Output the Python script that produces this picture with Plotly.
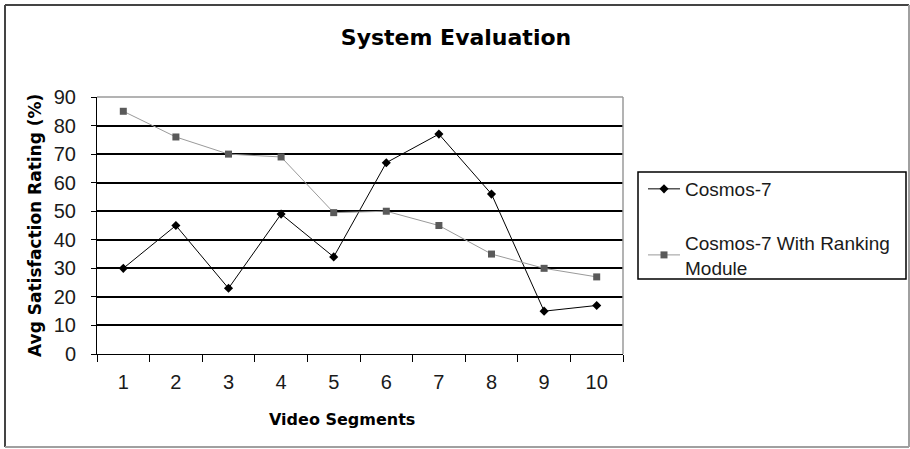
import plotly.graph_objects as go

segments = ["1", "2", "3", "4", "5", "6", "7", "8", "9", "10"]
cosmos7 = [30, 45, 23, 49, 34, 67, 77, 56, 15, 17]
cosmos7_ranking = [85, 76, 70, 69, 49.5, 50, 45, 35, 30, 27]
y_ticks = [0, 10, 20, 30, 40, 50, 60, 70, 80, 90]

L, R, T, B = 97, 623, 97, 354
W, H = 910, 449
pw, ph = R - L, B - T

def px(x):
    return (x - L) / pw

def py(y):
    return (B - y) / ph

fig = go.Figure()
fig.add_trace(go.Scatter(
    x=segments, y=cosmos7, mode="lines+markers", name="Cosmos-7",
    line=dict(color="black", width=1),
    marker=dict(symbol="diamond", size=7, color="black"),
    legendgroup="a",
))
fig.add_trace(go.Scatter(
    x=segments, y=cosmos7_ranking, mode="lines+markers",
    name="Cosmos-7 With Ranking<br>Module",
    line=dict(color="#9a9a9a", width=1),
    marker=dict(symbol="square", size=7, color="#5a5a5a"),
    legendgroup="b",
))

font_tick = dict(family="Liberation Sans, Arial", size=20, color="#1a1a1a")

fig.update_layout(
    width=W, height=H,
    margin=dict(l=L, r=W - R, t=T, b=H - B),
    paper_bgcolor="white", plot_bgcolor="white",
    title=dict(text="<b>System Evaluation</b>", x=456 / W, xref="container",
               xanchor="center", y=1 - 37 / H, yref="container", yanchor="middle",
               font=dict(family="DejaVu Sans", size=22, color="black")),
    showlegend=True,
    legend=dict(x=px(643), y=py(170), xanchor="left", yanchor="top",
                borderwidth=0, bgcolor="rgba(0,0,0,0)",
                font=dict(family="Liberation Sans, Arial", size=19, color="#1a1a1a"),
                traceorder="grouped", tracegroupgap=26, itemwidth=32),
    xaxis=dict(type="category", tickson="boundaries", ticks="outside",
               ticklen=7, tickcolor="black", showline=True, linecolor="black",
               linewidth=1, showgrid=False, tickfont=font_tick,
               ticklabelstandoff=10, range=[-0.5, 9.5]),
    yaxis=dict(range=[0, 90], tickvals=y_ticks, ticks="outside", ticklen=5,
               tickcolor="black", showline=True, linecolor="black", linewidth=1,
               showgrid=True, gridcolor="black", gridwidth=1.5,
               tickfont=font_tick, ticklabelstandoff=11, zeroline=False),
    annotations=[
        dict(text="<b>Avg Satisfaction Rating (%)</b>", x=px(35), y=py(226),
             xref="paper", yref="paper", textangle=-90, showarrow=False,
             xanchor="center", yanchor="middle",
             font=dict(family="DejaVu Sans", size=17, color="black")),
        dict(text="<b>Video Segments</b>", x=px(342), y=py(419),
             xref="paper", yref="paper", showarrow=False,
             xanchor="center", yanchor="middle",
             font=dict(family="DejaVu Sans", size=16, color="black")),
    ],
    shapes=[
        dict(type="line", xref="paper", yref="paper", x0=0, x1=1, y0=1, y1=1,
             line=dict(color="#9a9a9a", width=1.5)),
        dict(type="line", xref="paper", yref="paper", x0=1, x1=1, y0=0, y1=1,
             line=dict(color="#9a9a9a", width=1.5)),
        dict(type="rect", xref="paper", yref="paper", x0=px(638), x1=px(906),
             y0=py(172), y1=py(279), line=dict(color="black", width=1.5)),
        dict(type="line", xref="paper", yref="paper", x0=px(5), x1=px(909),
             y0=py(5), y1=py(5), line=dict(color="#444444", width=2)),
        dict(type="line", xref="paper", yref="paper", x0=px(5), x1=px(5),
             y0=py(5), y1=py(447), line=dict(color="#444444", width=2)),
        dict(type="line", xref="paper", yref="paper", x0=px(909), x1=px(909),
             y0=py(5), y1=py(447), line=dict(color="#a0a0a0", width=2)),
        dict(type="line", xref="paper", yref="paper", x0=px(5), x1=px(909),
             y0=py(447), y1=py(447), line=dict(color="#a0a0a0", width=2)),
    ],
)

fig.write_html("out.html")
